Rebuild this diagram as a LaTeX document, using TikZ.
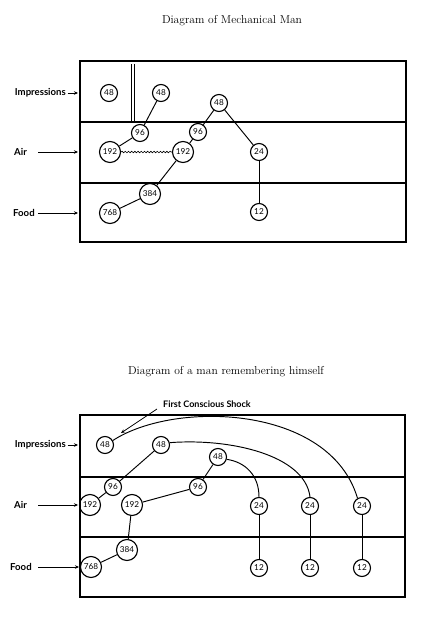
\documentclass[tikz,border=0pt]{standalone}
\usepackage{fontspec}
\newfontfamily\lato{Lato}
\usetikzlibrary{decorations.pathmorphing,arrows.meta}
\begin{document}
\begin{tikzpicture}[x=1pt,y=-1pt,
  nd/.style={circle,draw,line width=1.15pt,minimum size=17pt,inner sep=0pt,font=\lato\fontsize{8.2}{9}\selectfont},
  ndl/.style={nd,minimum size=21pt},
  conn/.style={line width=0.95pt},
  boxline/.style={line width=1.3pt},
  lab/.style={font=\lato\bfseries\fontsize{9.6}{11}\selectfont,inner sep=0pt},
  shk/.style={font=\lato\bfseries\fontsize{9}{11}\selectfont,inner sep=0pt},
  larr/.style={line width=0.8pt,-{Stealth[length=4pt,width=3.5pt]}},
  ttl/.style={font=\fontsize{11.5}{13}\selectfont,inner sep=0pt}]
\useasboundingbox (0,0) rectangle (439,641);
\fill[white] (0,0) rectangle (439,641);

% ---------- Top diagram ----------
\node[ttl] (t1) at (232,21) {Diagram of Mechanical Man};
\draw[boxline] (80,61) rectangle (406,242);
\draw[boxline] (80,122) -- (406,122);
\draw[boxline] (80,183) -- (406,183);
\draw[line width=0.9pt] (131.5,64) -- (131.5,121);
\draw[line width=0.9pt] (134.5,64) -- (134.5,121);

\node[nd] (i48a) at (109,93) {48};
\node[nd] (i48b) at (161,93) {48};
\node[nd] (i48c) at (219,103) {48};
\node[nd] (a96a) at (140,133) {96};
\node[nd] (a96b) at (198,132) {96};
\node[ndl] (a192a) at (110,152) {192};
\node[ndl] (a192b) at (183,152) {192};
\node[nd] (a24) at (259,152) {24};
\node[ndl] (f384) at (150,194) {384};
\node[ndl] (f768) at (110,213) {768};
\node[nd] (f12) at (259,212) {12};

\draw[conn] (i48b) -- (a96a);
\draw[conn] (a96a) -- (a192a);
\draw[line width=0.6pt,decorate,decoration={snake,amplitude=0.8pt,segment length=3.2pt}] (a192a.east) -- (a192b.west);
\draw[conn] (i48c) -- (a96b);
\draw[conn] (a96b) -- (a192b);
\draw[conn] (i48c) -- (a24);
\draw[conn] (a24) -- (f12);
\draw[conn] (a192b) -- (f384);
\draw[conn] (f384) -- (f768);

\node[lab,anchor=east] (li1) at (66,93) {Impressions};
\coordinate (ei1) at (78,93);
\draw[larr] (li1.east) ++(1.5,0) -- (ei1);
\node[lab,anchor=west] (la1) at (14,152) {Air};
\coordinate (ea1) at (78,152);
\draw[larr] (38,152) -- (ea1);
\node[lab,anchor=west] (lf1) at (13,213) {Food};
\coordinate (ef1) at (78,213);
\draw[larr] (38,213) -- (ef1);

% ---------- Bottom diagram ----------
\node[ttl] (t2) at (226,372) {Diagram of a man remembering himself};
\draw[boxline] (80,415) rectangle (405,597);
\draw[boxline] (80,477) -- (405,477);
\draw[boxline] (80,537) -- (405,537);

\node[nd] (b48a) at (105,445) {48};
\node[nd] (b48b) at (161,445) {48};
\node[nd] (b48c) at (218,457) {48};
\node[nd] (b96a) at (113,487) {96};
\node[nd] (b96b) at (198,487) {96};
\node[ndl] (b192a) at (90,505) {192};
\node[ndl] (b192b) at (132,505) {192};
\node[nd] (b24a) at (259,506) {24};
\node[nd] (b24b) at (310,506) {24};
\node[nd] (b24c) at (362,506) {24};
\node[ndl] (b384) at (127,550) {384};
\node[ndl] (b768) at (91,567) {768};
\node[nd] (b12a) at (259,568) {12};
\node[nd] (b12b) at (310,568) {12};
\node[nd] (b12c) at (362,568) {12};

\draw[conn] (b48b) -- (b96a);
\draw[conn] (b96a) -- (b192a);
\draw[conn] (b192b) -- (b96b);
\draw[conn] (b96b) -- (b48c);
\draw[conn] (b192b) -- (b384);
\draw[conn] (b384) -- (b768);
\draw[conn] (b24a) -- (b12a);
\draw[conn] (b24b) -- (b12b);
\draw[conn] (b24c) -- (b12c);
\draw[conn] (b48c.-15) .. controls (245,462) and (259,475) .. (b24a.north);
\draw[conn] (b48b.15) .. controls (230,438) and (305,455) .. (b24b.north);
\draw[conn] (b48a.30) .. controls (175,400) and (330,405) .. (b24c.120);

\node[shk,anchor=west] (shock) at (163,404) {First Conscious Shock};
\coordinate (shkend) at (121,433);
\draw[larr] (157,409) -- (shkend);

\node[lab,anchor=east] (li2) at (66,445) {Impressions};
\coordinate (ei2) at (78,445);
\draw[larr] (li2.east) ++(1.5,0) -- (ei2);
\node[lab,anchor=west] (la2) at (14,505) {Air};
\coordinate (ea2) at (78,505);
\draw[larr] (38,505) -- (ea2);
\node[lab,anchor=west] (lf2) at (10,567) {Food};
\coordinate (ef2) at (79,567);
\draw[larr] (38,567) -- (ef2);
\end{tikzpicture}
\end{document}
